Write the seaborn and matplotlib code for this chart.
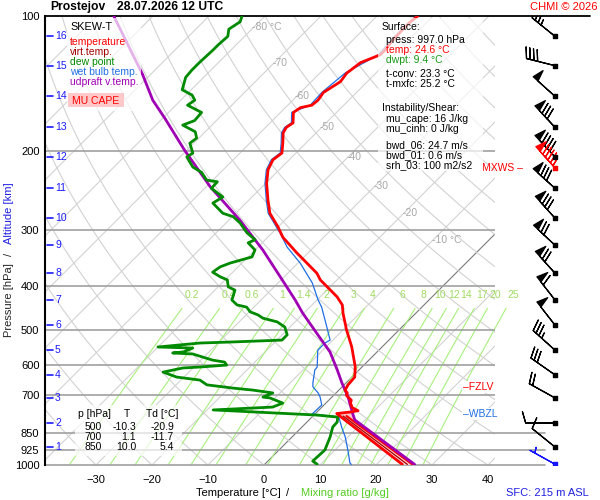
import numpy as np
import pandas as pd
import matplotlib
matplotlib.use("Agg")
import matplotlib.pyplot as plt
import matplotlib.transforms as mtransforms
from matplotlib.patches import Rectangle
from matplotlib.ticker import NullLocator, NullFormatter
import seaborn as sns

# ---------------- data ----------------
temp_p = [997, 778, 768, 762, 757, 745, 728, 717, 700, 691,
          681, 663, 650, 637, 620, 605, 546, 527, 500, 459,
          440, 422, 387, 374, 337, 311, 295, 275, 257, 236,
          220, 209, 202, 192, 182, 177, 173, 164, 160, 158,
          154, 148, 140, 134, 127, 122, 119, 112, 107, 103, 100]
temp_c = [24.6, 4.8, 3.8, 6.0, 7.1, 5.5, 4.4, 4.0, 2.3, 2.0,
          1.1, 0.7, 0.6, 0.5, -0.4, -1.2, -5.4, -7.0, -9.4, -13.0,
          -14.6, -17.0, -23.0, -24.8, -32.0, -37.3, -40.0, -43.9, -46.6, -49.8,
          -52.0, -52.9, -52.5, -54.1, -55.9, -56.3, -55.9, -57.7, -57.3, -55.7,
          -55.5, -55.9, -54.8, -55.2, -54.6, -52.5, -52.5, -52.9, -53.0, -53.0, -52.7]

virt_p = [997, 778]
virt_c = [25.5, 5.4]

dewp_p = [997, 980, 926, 866, 823, 802, 782, 774, 754, 743,
          728, 709, 706, 691, 681, 674, 663, 647, 637, 621,
          608, 605, 599, 590, 584, 575, 566, 563, 560, 549,
          546, 535, 532, 527, 513, 493, 480, 471, 463, 456,
          445, 440, 429, 408, 401, 387, 381, 372, 362, 355,
          344, 332, 320, 315, 304, 289, 280, 275, 261, 253,
          242, 234, 232, 223, 217, 206, 202, 192, 187, 181,
          175, 171, 164, 158, 154, 150, 146, 137, 132, 127,
          119, 116, 111, 107, 103, 100]
dewp_c = [9.4, 8.0, 8.2, 6.8, 5.5, 5.4, 4.6, 0.5, -18.9, -8.8,
          -7.7, -10.9, -12.3, -11.3, -15.4, -19.3, -24.5, -26.6, -31.3, -34.6,
          -31.8, -28.9, -24.5, -25.4, -27.9, -30.2, -32.5, -36.3, -34.6, -33.6,
          -40.0, -33.2, -27.5, -19.1, -19.1, -20.9, -23.2, -26.4, -27.9, -29.8,
          -31.3, -33.4, -35.2, -36.4, -38.2, -39.6, -41.4, -43.6, -43.2, -42.1,
          -39.3, -40.0, -42.5, -41.8, -44.5, -47.5, -49.8, -52.3, -55.9, -55.2,
          -58.8, -58.9, -61.1, -63.4, -65.9, -68.8, -68.4, -70.7, -70.4, -71.8,
          -75.2, -73.9, -74.1, -77.9, -77.5, -78.9, -81.6, -83.2, -83.4, -83.4,
          -83.2, -83.2, -83.0, -84.1, -83.4, -84.1]

wetb_p = [997, 990, 926, 866, 827, 782, 770, 735, 706, 691,
          670, 657, 614, 605, 555, 535, 527, 493, 445, 429,
          393, 355, 327, 304, 295, 275, 257, 236, 220, 209,
          202, 192, 182, 177, 173, 164, 158, 148, 134, 122,
          112, 100]
wetb_c = [15.5, 15.0, 12.3, 9.5, 7.3, 4.8, -0.5, -0.4, -2.1, -3.2,
          -5.2, -5.9, -7.9, -8.0, -10.9, -10.9, -10.5, -13.4, -17.9, -19.8,
          -23.9, -29.6, -34.8, -38.6, -40.3, -44.2, -46.9, -50.1, -52.3, -53.2,
          -52.8, -54.4, -56.2, -56.6, -56.2, -58.0, -56.0, -56.2, -55.5, -52.8,
          -53.2, -53.0]

parcel_p = [997, 794, 774, 740, 706, 657, 614, 560, 521, 459,
            429, 387, 332, 285, 240, 199, 169, 154, 135, 100]
parcel_c = [26.8, 8.2, 7.0, 5.0, 2.9, -0.7, -3.9, -8.4, -12.7, -20.2,
            -23.9, -29.8, -38.6, -48.0, -59.3, -70.4, -79.6, -85.0, -91.4, -107.0]

alt_km = list(range(1, 17))
alt_p = [912, 806, 709, 630, 555, 488, 429, 374, 324, 282, 242, 206, 177, 151, 129, 111]

wind_p = [997] + alt_p
wind_dir = [299, 309, 270, 299, 305, 312, 322, 322, 318, 313, 318, 312, 317, 317, 312, 284, 309]
wind_spd = [5, 10, 10, 20, 30, 35, 50, 60, 70, 70, 80, 80, 90, 80, 50, 40, 35]
mxws_p, mxws_dir, mxws_spd = 218, 318, 95

p_levels = [100, 200, 300, 400, 500, 600, 700, 850, 925, 1000]
t_ticks = [-30, -20, -10, 0, 10, 20, 30, 40]
mix_ratios = [0.2, 0.4, 0.6, 1, 1.4, 2, 3, 4, 6, 8, 10, 12, 14, 17, 20, 25]
mix_labels = ["0.2", "0.4", "0.6", "1", "1.4", "2", "3", "4", "6", "8",
              "10", "12", "14", "17", "20", "25"]
iso_vals = [-80, -70, -60, -50, -40, -30, -20, -10]
iso_texts = ["-80 °C", "-70", "-60", "-50", "-40", "-30", "-20", "-10 °C"]
iso_label_p = [106, 127, 151, 177, 206, 239, 275, 315]
fzlv_p, wbzl_p = 670, 770

table_head = ["p [hPa]", "T", "Td [°C]"]
table_rows = [["500", "-10.3", "-20.9"], ["700", "1.1", "-11.7"], ["850", "10.0", "5.4"]]

legend_items = ["temperature", "virt.temp.", "dew point", "wet bulb temp.", "udpraft v.temp."]
surface_lines = ["press: 997.0 hPa", "temp: 24.6 °C", "dwpt: 9.4 °C",
                 "t-conv: 23.3 °C", "t-mxfc: 25.2 °C"]
shear_lines = ["mu_cape: 16 J/kg", "mu_cinh: 0 J/kg", "bwd_06: 24.7 m/s",
               "bwd_01: 0.6 m/s", "srh_03: 100 m2/s2"]

# ---------------- style ----------------
sns.set_theme(style="white")
plt.rcParams["font.family"] = ["Liberation Sans", "DejaVu Sans"]

RED = "#ff0000"
DRED = "#a00000"
GREEN = "#008a00"
BLUE = "#1f6fe5"
PURPLE = "#a000b4"
GRID = "#d2d2d2"
MIXC = "#a8f07c"

SKEW = 449 / 5.6  # skew of isotherms (deg C per decade of pressure)


def skx(t, p):
    return np.asarray(t, float) + SKEW * np.log10(1000.0 / np.asarray(p, float))


W, H = 600, 500
fig = plt.figure(figsize=(6, 5), dpi=100)
fig.patch.set_facecolor("white")


def fx(x):
    return x / W


def fy(y):
    return 1 - y / H


ax = fig.add_axes([fx(45), 35 / H, 450 / W, 449 / H])
ax.set_facecolor("white")
ax.set_yscale("log")
ax.set_ylim(1000, 100)
ax.set_xlim(-39.1, 41.25)

pg = np.logspace(3, 2, 80)
# isotherms
for t0 in range(-140, 50, 10):
    col = "#7a7a7a" if t0 == 0 else GRID
    ax.plot(skx([t0, t0], [1000, 100]), [1000, 100], color=col, lw=0.8, zorder=1)
# dry adiabats
for th in np.arange(233.15, 520, 10):
    tt = th * (pg / 1000.0) ** 0.286 - 273.15
    ax.plot(skx(tt, pg), pg, color=GRID, lw=0.8, zorder=1)
# mixing ratio lines
pm = np.linspace(1000, 418, 40)
for w, lab in zip(mix_ratios, mix_labels):
    e = w * pm / (622.0 + w)
    le = np.log(e / 6.112)
    td = 243.5 * le / (17.67 - le)
    xm = skx(td, pm)
    ax.plot(xm[:-2], pm[:-2], color=MIXC, lw=0.8, zorder=1, clip_on=False)
    ax.text(xm[-1], pm[-1], lab, color="#a0dc60",
            fontsize=7.5, ha="center", va="center", zorder=2, clip_on=False)

# isotherm labels
for tv, txt, pl in zip(iso_vals, iso_texts, iso_label_p):
    ax.text(skx(tv, pl) - 0.3, pl, txt, color="#a8a8a8", fontsize=7.5,
            ha="left", va="center", zorder=2)

# pressure lines
for p in p_levels:
    if p == 100:
        ax.axhline(p, color="black", lw=1.3, xmax=545 / 450, clip_on=False, zorder=3)
    elif p >= 850:
        ax.axhline(p, color="#a0a0a0", lw=1.2, xmax=500 / 450, clip_on=False, zorder=2)
    else:
        ax.axhline(p, color="#a0a0a0", lw=1.2, zorder=2)

# low level band (temperature / virtual temperature)
vt = np.array(virt_c)
tb = np.interp(np.log(virt_p), np.log(temp_p[::-1]), np.array(temp_c[::-1]))
outer = 2 * vt - tb
ax.fill_betweenx(virt_p, skx(tb, virt_p), skx(outer, virt_p), color="#ffd4d4", zorder=3, lw=0)
ax.plot(skx(outer, virt_p), virt_p, color=RED, lw=1.6, zorder=4)

# small CAPE area
pc = np.linspace(790, 757, 20)
lp = np.log(pc)
tc_env = np.interp(lp, np.log(temp_p[::-1]), np.array(temp_c[::-1]))
tc_par = np.interp(lp, np.log(parcel_p[::-1]), np.array(parcel_c[::-1]))
ax.fill_betweenx(pc, skx(tc_env, pc), skx(tc_par, pc), where=tc_par > tc_env,
                 color="#ffc8c8", zorder=3, lw=0)

# profiles
sns.lineplot(x=skx(wetb_c, wetb_p), y=wetb_p, sort=False, estimator=None, ax=ax,
             color=BLUE, lw=0.9, zorder=4, legend=False)
sns.lineplot(x=skx(parcel_c, parcel_p), y=parcel_p, sort=False, estimator=None, ax=ax,
             color=PURPLE, lw=2.0, zorder=5, legend=False)
sns.lineplot(x=skx(dewp_c, dewp_p), y=dewp_p, sort=False, estimator=None, ax=ax,
             color=GREEN, lw=2.0, zorder=5, legend=False)
sns.lineplot(x=skx(temp_c, temp_p), y=temp_p, sort=False, estimator=None, ax=ax,
             color=RED, lw=2.0, zorder=6, legend=False)
sns.lineplot(x=skx(virt_c, virt_p), y=virt_p, sort=False, estimator=None, ax=ax,
             color=DRED, lw=0.9, zorder=6, legend=False)

# axes cosmetics
ax.set_xlim(-39.1, 41.25)
ax.set_ylim(1000, 100)
ax.set_xlabel("")
ax.set_ylabel("")
ax.set_yticks(p_levels)
ax.set_yticklabels([str(p) for p in p_levels])
ax.yaxis.set_minor_locator(NullLocator())
ax.yaxis.set_minor_formatter(NullFormatter())
ax.set_xticks(t_ticks)
ax.set_xticklabels([f"{t}".replace("-", "\u2212") for t in t_ticks])
ax.tick_params(axis="y", length=0, pad=4, labelsize=8, colors="black")
ax.tick_params(axis="x", length=0, pad=7, labelsize=8, colors="black")
for s in ["top", "right", "bottom"]:
    ax.spines[s].set_visible(False)
ax.spines["left"].set_color("black")
ax.spines["left"].set_linewidth(1.5)
ax.grid(False)

# altitude ticks
tr = mtransforms.blended_transform_factory(ax.transAxes, ax.transData)
for km, p in zip(alt_km, alt_p):
    ax.plot([2 / 450, 8 / 450], [p, p], color="#1a1aff", lw=1.2, transform=tr, zorder=7)
    ax.text(10 / 450, p, str(km), color="#1a1aff", fontsize=7.5, ha="left",
            va="center", transform=tr, zorder=7)

# level labels
ax.text((463 - 45) / 450, fzlv_p, "\u2013FZLV", color=RED, fontsize=7.5, ha="left",
        va="center", transform=tr, zorder=7,
        bbox=dict(facecolor="white", edgecolor="none", pad=0.5))
ax.text((463 - 45) / 450, wbzl_p, "\u2013WBZL", color=BLUE, fontsize=7.5, ha="left",
        va="center", transform=tr, zorder=7,
        bbox=dict(facecolor="white", edgecolor="none", pad=0.5))
ax.text((482 - 45) / 450, mxws_p, "MXWS \u2013", color=RED, fontsize=7.5, ha="left",
        va="center", transform=tr, zorder=7, clip_on=False)

# wind barbs
axb = fig.add_axes([fx(500), 35 / H, 100 / W, 449 / H])
axb.set_yscale("log")
axb.set_ylim(1000, 100)
axb.set_xlim(0, 100)
axb.axis("off")
d = np.radians(wind_dir)
s = np.array(wind_spd, float)
u = -s * np.sin(d)
v = -s * np.cos(d)
xs = np.full(len(wind_p), 55.0)
BL = 6.5
BS = dict(height=0.38, width=0.22, spacing=0.13)
axb.barbs(xs[1:], wind_p[1:], u[1:], v[1:], length=BL, color="black", lw=0.9, sizes=BS)
axb.barbs(xs[:1], wind_p[:1], u[:1], v[:1], length=BL, color="#1515ff", lw=0.9, sizes=BS)
dm = np.radians(mxws_dir)
axb.barbs([55.0], [mxws_p], [-mxws_spd * np.sin(dm)], [-mxws_spd * np.cos(dm)],
          length=BL, color=RED, lw=0.9, sizes=BS)
axb.scatter(xs[1:], wind_p[1:], marker="s", s=7, color="black", zorder=5)
axb.scatter(xs[:1], wind_p[:1], marker="s", s=7, color="#1515ff", zorder=5)
axb.scatter([55.0], [mxws_p], marker="s", s=7, color=RED, zorder=5)

# boxes
def box(x0, y0, x1, y1, fc="white", alpha=0.7):
    fig.add_artist(Rectangle((fx(x0), fy(y1)), fx(x1) - fx(x0), fy(y0) - fy(y1),
                             transform=fig.transFigure, facecolor=fc, edgecolor="none",
                             alpha=alpha, zorder=1))


box(67, 18, 141, 111)
box(68, 93, 124, 107, fc="#ffc0c0", alpha=0.85)
box(378, 18, 483, 171)
box(75, 405, 182, 456)


def T(x, y, s, c="black", size=7.5, **kw):
    fig.text(fx(x), fy(y), s, color=c, fontsize=size, va="center", zorder=3, **kw)


# title
T(50, 7, "Prostejov", size=8.7, weight="bold", ha="left")
T(117, 7, "28.07.2026 12 UTC", size=8.7, weight="bold", ha="left")
T(598, 7, "CHMI \u00a9 2026", c=RED, size=8, ha="right")

# legend
T(70, 27, "SKEW-T", size=7.8, ha="left")
for i, (txt, c) in enumerate(zip(legend_items, [RED, DRED, GREEN, BLUE, PURPLE])):
    T(70, 42 + 10 * i, txt, c=c, ha="left")
T(96, 100.5, "MU CAPE", c=RED, ha="center")

# surface box
T(382, 27, "Surface:", ha="left")
for txt, y, c in zip(surface_lines, [40, 50, 60, 74, 84],
                     ["black", RED, "#1a9a1a", "black", "black"]):
    T(386, y, txt, c=c, ha="left")
T(382, 108, "Instability/Shear:", ha="left")
for txt, y in zip(shear_lines, [119, 129, 145, 155, 165]):
    T(386, y, txt, ha="left")

# table
T(78, 414, table_head[0], ha="left")
T(127, 414, table_head[1], ha="center")
T(146, 414, table_head[2], ha="left")
for i, row in enumerate(table_rows):
    y = 427 + 10 * i
    T(102, y, row[0], ha="right")
    T(136, y, row[1], ha="right")
    T(174, y, row[2], ha="right")

# axis titles
T(238, 493, "Temperature [°C]", size=8, ha="center")
T(288, 493, "/", size=8, ha="center")
T(345, 493, "Mixing ratio [g/kg]", c="#55cc22", size=8, ha="center")
T(589, 493, "SFC: 215 m ASL", c="#2020e0", size=8, ha="right")
fig.text(fx(9), fy(300), "Pressure [hPa]", rotation=90, fontsize=8, ha="center", va="center")
fig.text(fx(9), fy(254), "/", rotation=90, fontsize=8, ha="center", va="center")
fig.text(fx(9), fy(213), "Altitude [km]", rotation=90, fontsize=8, ha="center",
         va="center", color="#2020e0")

fig.savefig("out.png", dpi=100)
